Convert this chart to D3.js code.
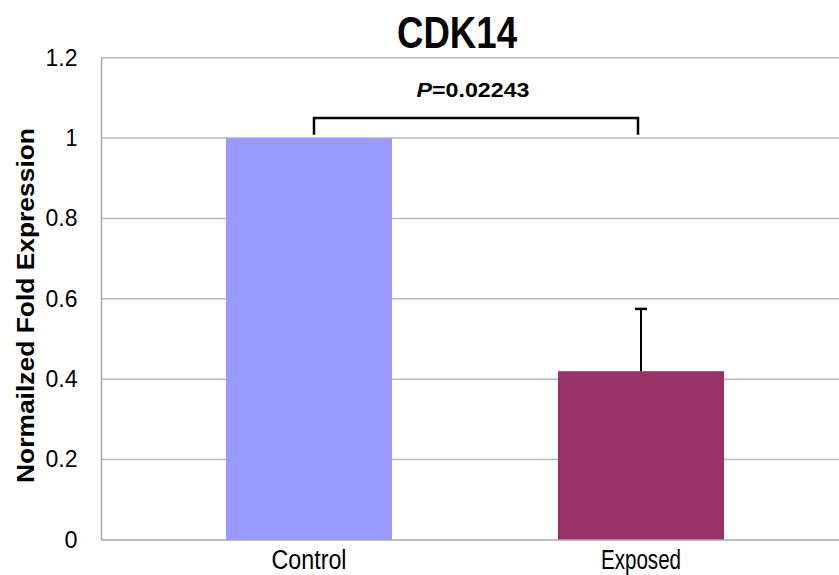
<!DOCTYPE html>
<html>
<head>
<meta charset="utf-8">
<script src="https://cdn.jsdelivr.net/npm/d3@7"></script>
<style>
  html, body { margin: 0; padding: 0; background: #fff; }
  svg { display: block; }
  text { font-family: "Liberation Sans", Arial, sans-serif; fill: #000; }
</style>
</head>
<body>
<div id="chart"></div>
<script>
// ---- data ----
const categories = ["Control", "Exposed"];
const values = [1.0, 0.42];
const errors = [0, 0.155];
const barColors = ["#9999FF", "#993366"];
const yTicks = [0, 0.2, 0.4, 0.6, 0.8, 1.0, 1.2];
const yTickLabels = ["0", "0.2", "0.4", "0.6", "0.8", "1", "1.2"];
const chartTitle = "CDK14";
const yAxisTitle = "Normailzed Fold Expression";
const pValueLabel = "0.02243";

// ---- layout ----
const W = 839, H = 575;
const plotLeft = 101.5, plotBottom = 540, plotTop = 57.7;

const svg = d3.select("#chart").append("svg")
  .attr("width", W).attr("height", H);

const y = d3.scaleLinear().domain([0, 1.2]).range([plotBottom, plotTop]);
const x = d3.scaleBand().domain(categories)
  .range([101, 849]).paddingInner(0.5).paddingOuter(0.3765);

// gridlines
svg.append("g").selectAll("line")
  .data(yTicks.filter(d => d > 0))
  .join("line")
  .attr("x1", plotLeft).attr("x2", W)
  .attr("y1", d => y(d)).attr("y2", d => y(d))
  .attr("stroke", "#b8b8b8").attr("stroke-width", 1.5);

// bars
svg.append("g").selectAll("rect")
  .data(categories)
  .join("rect")
  .attr("x", d => x(d))
  .attr("width", x.bandwidth())
  .attr("y", (d, i) => y(values[i]))
  .attr("height", (d, i) => y(0) - y(values[i]))
  .attr("fill", (d, i) => barColors[i]);

// axes lines
svg.append("line").attr("x1", plotLeft).attr("x2", plotLeft)
  .attr("y1", plotTop).attr("y2", plotBottom)
  .attr("stroke", "#a8a8a8").attr("stroke-width", 1.5);
svg.append("line").attr("x1", plotLeft).attr("x2", W)
  .attr("y1", plotBottom).attr("y2", plotBottom)
  .attr("stroke", "#a8a8a8").attr("stroke-width", 1.5);

// y axis ticks
const yAxis = d3.axisLeft(y).tickValues(yTicks)
  .tickFormat((d, i) => yTickLabels[i]).tickSize(0).tickPadding(24);
const gy = svg.append("g").attr("transform", `translate(${plotLeft},0)`).call(yAxis);
gy.select(".domain").remove();
gy.selectAll("text").style("font-size", "23px")
  .style("font-family", "'Liberation Sans', Arial, sans-serif").attr("fill", "#000")
  .attr("textLength", d => d === 0 ? 13 : (d === 1 ? 12 : 32))
  .attr("lengthAdjust", "spacingAndGlyphs");

// x axis labels
const xAxis = d3.axisBottom(x).tickSize(0).tickPadding(10);
const gx = svg.append("g").attr("transform", `translate(0,${plotBottom})`).call(xAxis);
gx.select(".domain").remove();
gx.selectAll("text").style("font-size", "27px")
  .style("font-family", "'Liberation Sans', Arial, sans-serif").attr("fill", "#000")
  .attr("textLength", d => d === "Control" ? 75 : 80)
  .attr("lengthAdjust", "spacingAndGlyphs");

// error bars
const eb = svg.append("g");
categories.forEach((c, i) => {
  if (errors[i] <= 0) return;
  const cx = x(c) + x.bandwidth() / 2;
  eb.append("line").attr("x1", cx).attr("x2", cx)
    .attr("y1", y(values[i])).attr("y2", y(values[i] + errors[i]))
    .attr("stroke", "#000").attr("stroke-width", 2);
  eb.append("line").attr("x1", cx - 6).attr("x2", cx + 6)
    .attr("y1", y(values[i] + errors[i])).attr("y2", y(values[i] + errors[i]))
    .attr("stroke", "#000").attr("stroke-width", 2.5);
});

// significance bracket
const bx1 = x(categories[0]) + x.bandwidth() / 2 + 5;
const bx2 = x(categories[1]) + x.bandwidth() / 2 - 3;
const byTop = y(1.05), byBot = y(1.008);
svg.append("path")
  .attr("d", `M${bx1},${byBot}V${byTop}H${bx2}V${byBot}`)
  .attr("fill", "none").attr("stroke", "#000").attr("stroke-width", 2.5);

const pText = svg.append("text")
  .attr("x", (bx1 + bx2) / 2 - 3).attr("y", 97)
  .attr("text-anchor", "middle")
  .style("font-size", "21px").style("font-weight", "bold")
  .attr("textLength", 113).attr("lengthAdjust", "spacingAndGlyphs");
pText.append("tspan").style("font-style", "italic").text("P");
pText.append("tspan").text("=" + pValueLabel);

// title
svg.append("text")
  .attr("x", 457).attr("y", 48)
  .attr("text-anchor", "middle")
  .style("font-size", "44px").style("font-weight", "bold")
  .attr("textLength", 120).attr("lengthAdjust", "spacingAndGlyphs")
  .text(chartTitle);

// y axis title
svg.append("text")
  .attr("transform", `translate(34,${(128 + 483) / 2}) rotate(-90)`)
  .attr("text-anchor", "middle")
  .style("font-size", "23px").style("font-weight", "bold")
  .attr("textLength", 355).attr("lengthAdjust", "spacingAndGlyphs")
  .text(yAxisTitle);
</script>
</body>
</html>
